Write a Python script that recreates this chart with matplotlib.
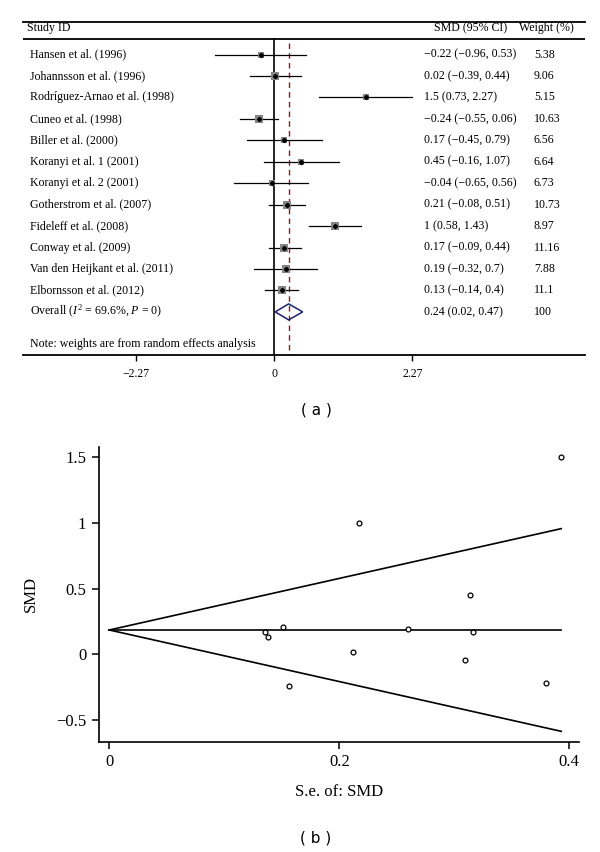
import matplotlib
matplotlib.use("Agg")
import matplotlib.pyplot as plt
from matplotlib.patches import Polygon

plt.rcParams['font.family'] = ['Liberation Serif', 'DejaVu Serif']
plt.rcParams['mathtext.fontset'] = 'custom'
plt.rcParams['mathtext.rm'] = 'Liberation Serif'
plt.rcParams['mathtext.it'] = 'Liberation Serif:italic'

# ---------------- data ----------------
studies = ["Hansen et al. (1996)", "Johannsson et al. (1996)",
           "Rodríguez-Arnao et al. (1998)", "Cuneo et al. (1998)",
           "Biller et al. (2000)", "Koranyi et al. 1 (2001)",
           "Koranyi et al. 2 (2001)", "Gotherstrom et al. (2007)",
           "Fideleff et al. (2008)", "Conway et al. (2009)",
           "Van den Heijkant et al. (2011)", "Elbornsson et al. (2012)"]
smd = [-0.22, 0.02, 1.5, -0.24, 0.17, 0.45, -0.04, 0.21, 1.0, 0.17, 0.19, 0.13]
ci_lo = [-0.96, -0.39, 0.73, -0.55, -0.45, -0.16, -0.65, -0.08, 0.58, -0.09, -0.32, -0.14]
ci_hi = [0.53, 0.44, 2.27, 0.06, 0.79, 1.07, 0.56, 0.51, 1.43, 0.44, 0.7, 0.4]
weights = [5.38, 9.06, 5.15, 10.63, 6.56, 6.64, 6.73, 10.73, 8.97, 11.16, 7.88, 11.1]
overall_smd = 0.24
overall_lo = 0.02
overall_hi = 0.47
overall_weight = 100
forest_ticks = [-2.27, 0, 2.27]
forest_ticklabels = ["−2.27", "0", "2.27"]

# funnel plot data
se = [0.380, 0.212, 0.393, 0.156, 0.316, 0.314, 0.309, 0.151, 0.217, 0.135, 0.260, 0.138]
pooled_fe = 0.185
se_max = 0.393
funnel_xticks = [0, 0.2, 0.4]
funnel_xticklabels = ["0", "0.2", "0.4"]
funnel_yticks = [-0.5, 0, 0.5, 1, 1.5]
funnel_yticklabels = ["−0.5", "0", "0.5", "1", "1.5"]


def fmt(v):
    return ("%g" % v).replace("-", "−")


W, H = 600, 852
fig = plt.figure(figsize=(W / 100, H / 100), dpi=100)

# ---------------- forest plot (a) ----------------
zero_px, unit_px = 274.0, 61.0
left_px, right_px = 23.0, 585.0
row0_px, row_step = 54.5, 21.45
top_px, axis_px = 22.0, 355.0


def row_of(px):
    return (px - row0_px) / row_step


ax1 = fig.add_axes([left_px / W, 1 - axis_px / H, (right_px - left_px) / W, (axis_px - top_px) / H])
ax1.set_xlim((left_px - zero_px) / unit_px, (right_px - zero_px) / unit_px)
ax1.set_ylim(row_of(axis_px), row_of(top_px))
for s in ['left', 'right']:
    ax1.spines[s].set_visible(False)
ax1.spines['top'].set_linewidth(1.3)
ax1.spines['bottom'].set_linewidth(1.3)
ax1.set_yticks([])
ax1.set_xticks(forest_ticks)
ax1.set_xticklabels(forest_ticklabels, fontsize=8.5)
ax1.tick_params(axis='x', direction='out', length=4, width=1, pad=5)

hdr_row = row_of(28.5)
line2_row = row_of(39)
ax1.axhline(line2_row, color='black', lw=1.3)
fs = 8.6
x_label = (30 - zero_px) / unit_px
x_ci = (424 - zero_px) / unit_px
x_w = (534 - zero_px) / unit_px
ax1.text((27 - zero_px) / unit_px, hdr_row, "Study ID", fontsize=fs, va='center', ha='left')
ax1.text((434 - zero_px) / unit_px, hdr_row, "SMD (95% CI)", fontsize=fs, va='center', ha='left')
ax1.text((519 - zero_px) / unit_px, hdr_row, "Weight (%)", fontsize=fs, va='center', ha='left')

# reference lines
ax1.plot([0, 0], [line2_row, row_of(axis_px)], color='black', lw=1.2, zorder=2)
ax1.plot([overall_smd, overall_smd], [line2_row + 0.2, row_of(axis_px)], color='#8b1a2e',
         lw=1.0, ls=(0, (4, 3)), zorder=2)

for i, name in enumerate(studies):
    ax1.plot([ci_lo[i], ci_hi[i]], [i, i], color='black', lw=0.9, zorder=3)
    ax1.scatter([smd[i]], [i], marker='s', s=3.3 * weights[i], color='#858585', zorder=4, linewidths=0)
    ax1.plot([smd[i]], [i], marker='D', ms=2.2, color='black', zorder=5)
    ax1.text(x_label, i, name, fontsize=fs, va='center', ha='left')
    ax1.text(x_ci, i, "%s (%s, %s)" % (fmt(smd[i]), fmt(ci_lo[i]), fmt(ci_hi[i])),
             fontsize=fs, va='center', ha='left')
    ax1.text(x_w, i, fmt(weights[i]), fontsize=fs, va='center', ha='left')

n = len(studies)
dh = 8.0 / row_step
diamond = Polygon([[overall_lo, n], [overall_smd, n - dh], [overall_hi, n], [overall_smd, n + dh]],
                  closed=True, fill=False, edgecolor='#1c1f6b', lw=1.1, zorder=4)
ax1.add_patch(diamond)
ax1.text(x_label, n, r"Overall ($\mathit{I}^2$ = 69.6%, $\mathit{P}$ = 0)", fontsize=fs, va='center', ha='left')
ax1.text(x_ci, n, "%s (%s, %s)" % (fmt(overall_smd), fmt(overall_lo), fmt(overall_hi)),
         fontsize=fs, va='center', ha='left')
ax1.text(x_w, n, fmt(overall_weight), fontsize=fs, va='center', ha='left')
ax1.text(x_label, row_of(344), "Note: weights are from random effects analysis", fontsize=fs,
         va='center', ha='left')

fig.text(316 / W, 1 - 410 / H, "( a )", fontsize=11, family='DejaVu Sans', ha='center', va='center')

# ---------------- funnel plot (b) ----------------
bl, br, bt, bb = 98.7, 579.3, 446.7, 741.7
ax2 = fig.add_axes([bl / W, 1 - bb / H, (br - bl) / W, (bb - bt) / H])
ax2.set_xlim(-0.0092, 0.4087)
ax2.set_ylim(-0.664, 1.578)
for s in ['top', 'right']:
    ax2.spines[s].set_visible(False)
for s in ['left', 'bottom']:
    ax2.spines[s].set_linewidth(1.2)
ax2.set_xticks(funnel_xticks)
ax2.set_xticklabels(funnel_xticklabels, fontsize=12)
ax2.set_yticks(funnel_yticks)
ax2.set_yticklabels(funnel_yticklabels, fontsize=12)
ax2.tick_params(direction='out', length=5, width=1.1, pad=4)
ax2.set_xlabel("S.e. of: SMD", fontsize=12, labelpad=10)
ax2.set_ylabel("SMD", fontsize=12, labelpad=12)

fx = [0, se_max]
ax2.plot(fx, [pooled_fe, pooled_fe], color='black', lw=1.2)
ax2.plot(fx, [pooled_fe + 1.96 * x for x in fx], color='black', lw=1.2)
ax2.plot(fx, [pooled_fe - 1.96 * x for x in fx], color='black', lw=1.2)
ax2.plot(se, smd, ls='none', marker='o', ms=3.5, mfc='white', mec='black', mew=0.9, zorder=5)

fig.text(316 / W, 1 - 838 / H, "( b )", fontsize=11, family='DejaVu Sans', ha='center', va='center')

fig.savefig("out.png", dpi=100)
